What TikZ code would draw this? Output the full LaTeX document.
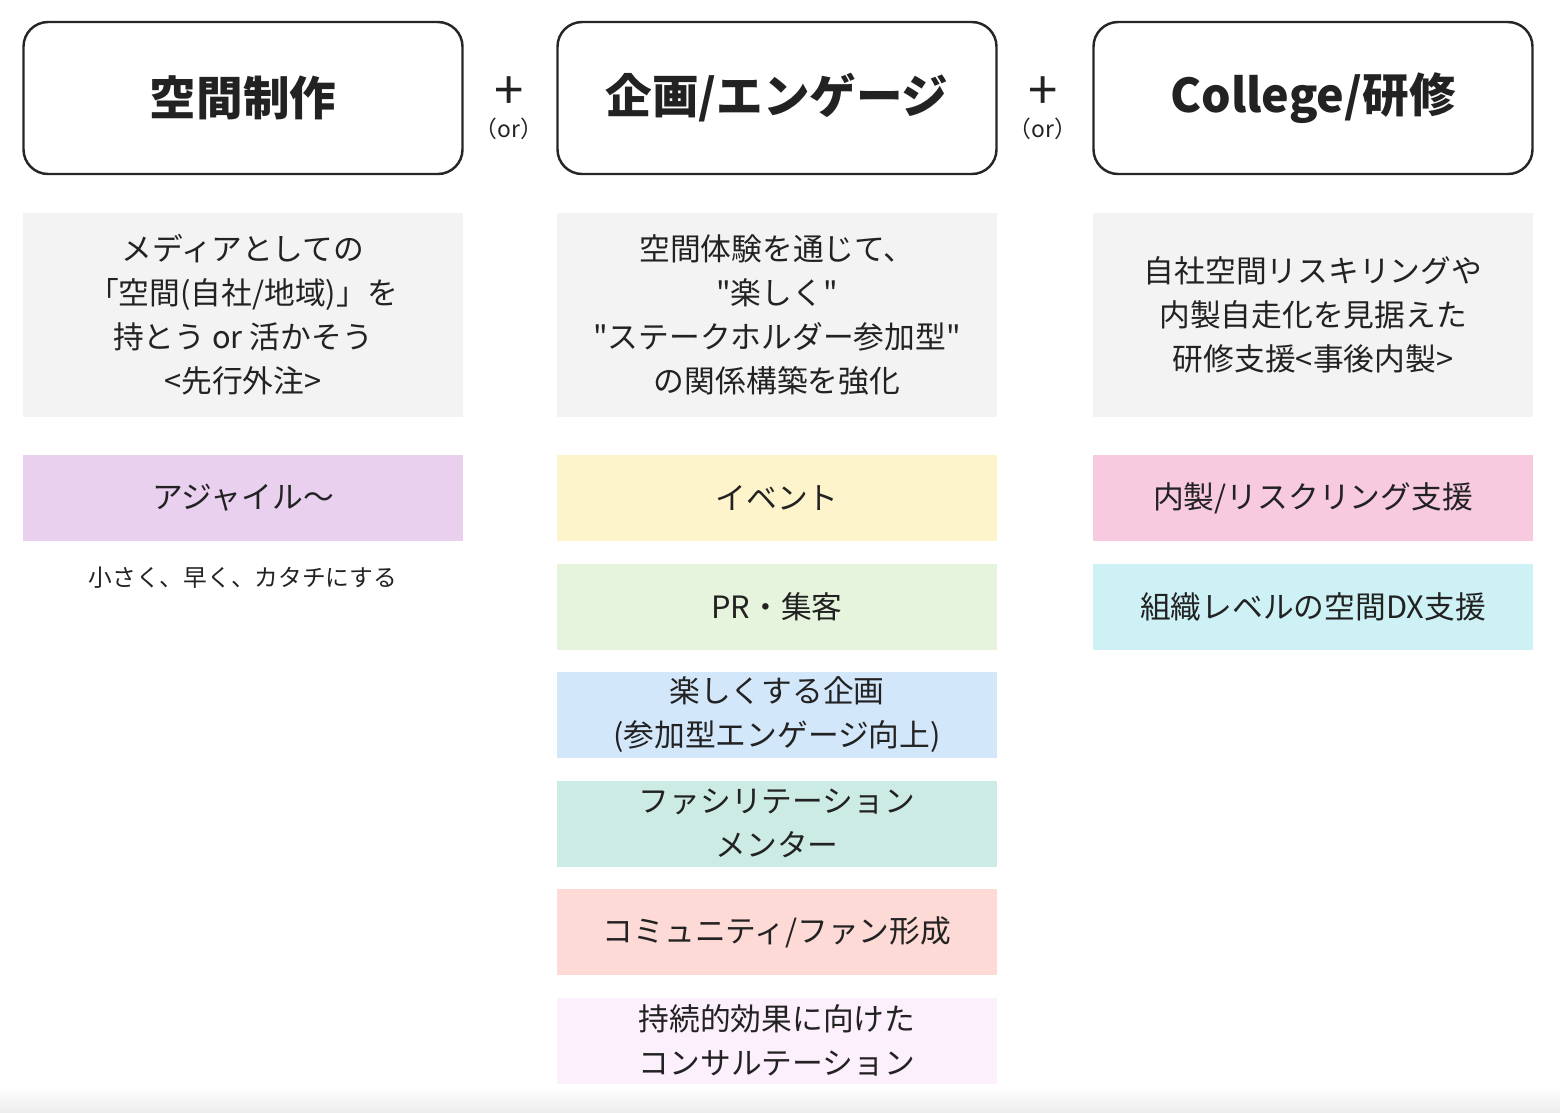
\documentclass[tikz,border=0pt]{standalone}
\usepackage{fontspec}
\setmainfont{Noto Sans CJK JP}[Ligatures=TeXOff]
\usepackage{xcolor}
\usepackage{tikz}
\usetikzlibrary{positioning}

\definecolor{txt}{HTML}{222222}
\definecolor{notegray}{HTML}{F3F3F3}
\definecolor{agilepurple}{HTML}{E8D0EE}
\definecolor{eventyellow}{HTML}{FEF4CC}
\definecolor{prgreen}{HTML}{E7F4DD}
\definecolor{planblue}{HTML}{D3E7FB}
\definecolor{facilteal}{HTML}{CDEBE5}
\definecolor{commsalmon}{HTML}{FDDAD6}
\definecolor{consultpink}{HTML}{FBF0FC}
\definecolor{reskillpink}{HTML}{F7CAE0}
\definecolor{dxcyan}{HTML}{CDF1F5}

\begin{document}
\begin{tikzpicture}[
				font=\fontsize{17.5}{25}\selectfont,
				text=txt,
				node distance=0.45cm,
				outer sep=0pt,
				headbox/.style={
					draw=black!85,
					line width=1.4pt,
					rounded corners=14pt,
					align=center,
					minimum width=8.78cm,
					minimum height=3.04cm,
					inner sep=0pt,
					font=\fontsize{26.5}{32}\selectfont\bfseries
				},
				notebox/.style={
					fill=notegray,
					align=center,
					minimum width=8.8cm,
					minimum height=4.08cm,
					inner sep=0pt
				},
				itembox/.style={
					align=center,
					minimum width=8.8cm,
					minimum height=1.72cm,
					inner sep=0pt
				},
				plussign/.style={font=\fontsize{30}{30}\selectfont, inner sep=0pt},
				orlabel/.style={font=\fontsize{13}{15}\selectfont, inner sep=0pt}
				]
				
				\useasboundingbox (0,0) rectangle (31.2,-22.24);
				\shade[top color=white, bottom color=black!7] (0,-21.72) rectangle (31.2,-22.24);
				
				% Cabeceras
				\node[headbox] (space) at (4.86,-1.96) {空間制作};
				\node[headbox] (engage) at (15.54,-1.96) {企画/エンゲージ};
				\node[headbox] (college) at (26.26,-1.96) {College/研修};
				
				\node[plussign] (plusa) at (10.18,-1.86) {+};
				\node[orlabel] (ora) at (10.18,-2.58) {（or）};
				\node[plussign] (plusb) at (20.86,-1.86) {+};
				\node[orlabel] (orb) at (20.86,-2.58) {（or）};
				
				% Notas
				\node[notebox, below=0.78cm of space] (spacenote) {メディアとしての\\
					「空間(自社/地域)」を\\
					持とう or 活かそう\\
					<先行外注>};
				\node[notebox, below=0.78cm of engage] (engagenote) {空間体験を通じて、\\
					"楽しく"\\
					"ステークホルダー参加型"\\
					の関係構築を強化};
				\node[notebox, below=0.78cm of college] (collegenote) {自社空間リスキリングや\\
					内製自走化を見据えた\\
					研修支援<事後内製>};
				
				% Columna izquierda
				\node[itembox, fill=agilepurple, below=0.76cm of spacenote] (agile) {アジャイル～};
				\node[below=0.42cm of agile, font=\fontsize{13.5}{16}\selectfont, inner sep=3pt] (agilenote) {小さく、早く、カタチにする};
				
				% Columna central
				\node[itembox, fill=eventyellow, below=0.76cm of engagenote] (event) {イベント};
				\node[itembox, fill=prgreen, below=of event] (pr) {PR・集客};
				\node[itembox, fill=planblue, below=of pr] (plan) {楽しくする企画\\(参加型エンゲージ向上)};
				\node[itembox, fill=facilteal, below=of plan] (facil) {ファシリテーション\\メンター};
				\node[itembox, fill=commsalmon, below=of facil] (comm) {コミュニティ/ファン形成};
				\node[itembox, fill=consultpink, below=of comm] (consult) {持続的効果に向けた\\コンサルテーション};
				
				% Columna derecha
				\node[itembox, fill=reskillpink, below=0.76cm of collegenote] (reskill) {内製/リスクリング支援};
				\node[itembox, fill=dxcyan, below=of reskill] (dx) {組織レベルの空間DX支援};
				
			\end{tikzpicture}
\end{document}
